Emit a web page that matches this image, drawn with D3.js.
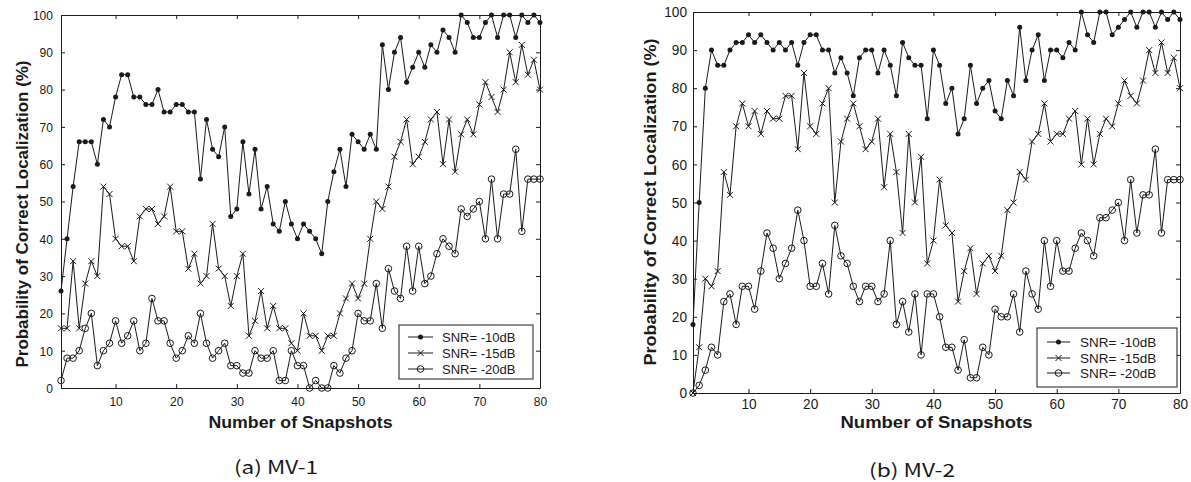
<!DOCTYPE html>
<html>
<head>
<meta charset="utf-8">
<script src="https://cdn.jsdelivr.net/npm/d3@7/dist/d3.min.js"></script>
<style>
  body { margin: 0; background: #fff; }
  svg { display: block; }
</style>
</head>
<body>
<div id="chart"></div>
<script>
// x categories and tick labels
const snapshots = d3.range(1, 81);
const xTickValues = [10, 20, 30, 40, 50, 60, 70, 80];
const yTickValues = [0, 10, 20, 30, 40, 50, 60, 70, 80, 90, 100];
const seriesNames = ["SNR= -10dB", "SNR= -15dB", "SNR= -20dB"];
const panelCaptions = ["(a)  MV-1", "(b)  MV-2"];

// (a) MV-1, probability of correct localization (%)
const mv1Snr10 = [26, 40, 54, 66, 66, 66, 60, 72, 70, 78, 84, 84, 78, 78, 76, 76, 80, 74, 74, 76,
  76, 74, 74, 56, 72, 64, 62, 70, 46, 48, 66, 52, 64, 48, 54, 44, 42, 50, 44, 40,
  44, 42, 40, 36, 50, 58, 64, 54, 68, 66, 64, 68, 64, 92, 80, 90, 94, 82, 86, 90,
  86, 92, 90, 96, 94, 90, 100, 98, 94, 94, 98, 100, 94, 100, 100, 94, 100, 98, 100, 98];
const mv1Snr15 = [16, 16, 34, 16, 28, 34, 30, 54, 52, 40, 38, 38, 34, 46, 48, 48, 44, 46, 54, 42,
  42, 32, 36, 28, 30, 44, 32, 30, 22, 30, 36, 14, 18, 26, 16, 22, 16, 16, 12, 10,
  20, 14, 14, 10, 14, 14, 20, 24, 28, 24, 28, 40, 50, 48, 54, 62, 66, 72, 60, 62,
  66, 72, 74, 60, 72, 58, 68, 72, 68, 76, 82, 78, 74, 80, 90, 82, 92, 84, 88, 80];
const mv1Snr20 = [2, 8, 8, 10, 16, 20, 6, 10, 12, 18, 12, 14, 18, 10, 12, 24, 18, 18, 12, 8,
  10, 14, 12, 20, 12, 8, 10, 12, 6, 6, 4, 4, 10, 8, 8, 10, 2, 2, 10, 6,
  6, 0, 2, 0, 0, 6, 4, 8, 10, 20, 18, 18, 28, 16, 32, 26, 24, 38, 26, 38,
  28, 30, 36, 40, 38, 36, 48, 46, 48, 50, 40, 56, 40, 52, 52, 64, 42, 56, 56, 56];

// (b) MV-2
const mv2Snr10 = [18, 50, 80, 90, 86, 86, 90, 92, 92, 94, 92, 94, 92, 90, 92, 90, 92, 86, 92, 94,
  94, 90, 90, 84, 88, 84, 78, 88, 90, 90, 84, 90, 86, 78, 92, 88, 86, 86, 72, 90,
  86, 76, 80, 68, 72, 86, 76, 80, 82, 74, 72, 82, 78, 96, 82, 90, 94, 82, 90, 90,
  88, 92, 90, 100, 94, 92, 100, 100, 94, 96, 98, 100, 96, 100, 100, 96, 100, 98, 100, 98];
const mv2Snr15 = [0, 12, 30, 28, 32, 58, 52, 70, 76, 70, 74, 68, 74, 72, 72, 78, 78, 64, 84, 70,
  68, 76, 80, 50, 66, 72, 76, 70, 64, 66, 72, 54, 68, 58, 42, 68, 50, 62, 34, 40,
  56, 44, 42, 24, 32, 38, 26, 34, 36, 32, 36, 48, 50, 58, 56, 66, 68, 76, 66, 68,
  68, 72, 74, 60, 72, 60, 68, 72, 70, 76, 82, 78, 76, 82, 90, 84, 92, 84, 88, 80];
const mv2Snr20 = [0, 2, 6, 12, 10, 24, 26, 18, 28, 28, 22, 32, 42, 38, 30, 34, 38, 48, 40, 28,
  28, 34, 26, 44, 36, 34, 28, 24, 28, 28, 24, 26, 40, 18, 24, 16, 26, 10, 26, 26,
  20, 12, 12, 6, 14, 4, 4, 12, 10, 22, 20, 20, 26, 16, 32, 26, 22, 40, 28, 40,
  32, 32, 38, 42, 40, 36, 46, 46, 48, 50, 40, 56, 42, 52, 52, 64, 42, 56, 56, 56];

const markers = ["dot", "cross", "ring"];
const ink = "#1a1a1a";

const width = 1191;
const height = 482;

const svg = d3
  .select("#chart")
  .append("svg")
  .attr("width", width)
  .attr("height", height)
  .attr("viewBox", [0, 0, width, height])
  .style("font-family", "'Liberation Sans', Arial, sans-serif");

// layout of the two sub-figures (they were scanned at slightly different sizes)
const panels = [
  {
    series: [mv1Snr10, mv1Snr15, mv1Snr20],
    caption: panelCaptions[0],
    x0: 61, x1: 540, y0: 388, y1: 15,
    tickFont: 13.5, digitW: 6.7, tickPad: 8,
    yTitle: { x: 22, y: 214, size: 16, len: 307 },
    xTitle: { y: 428, size: 16, len: 184 },
    cap: { x: 276, y: 474, len: 84 },
    legend: { x: 399, y: 325, w: 134, h: 54, rows: [337, 353, 369], lx0: 408, lx1: 433, tx: 442, size: 13 },
  },
  {
    series: [mv2Snr10, mv2Snr15, mv2Snr20],
    caption: panelCaptions[1],
    x0: 693, x1: 1180, y0: 393, y1: 12,
    tickFont: 14.5, digitW: 7.6, tickPad: 6,
    yTitle: { x: 650, y: 202, size: 17, len: 327 },
    xTitle: { y: 428, size: 16.5, len: 192 },
    cap: { x: 912, y: 477, len: 86 },
    legend: { x: 1037, y: 328, w: 140, h: 59, rows: [342, 358, 373], lx0: 1047, lx1: 1070, tx: 1080, size: 13.5 },
  },
];

const drawMarker = (g, kind) => {
  if (kind === "dot") {
    g.append("circle").attr("r", 2.5).attr("fill", ink);
  } else if (kind === "cross") {
    g.append("path")
      .attr("d", "M-3,-3L3,3M-3,3L3,-3")
      .attr("stroke", ink)
      .attr("stroke-width", 1);
  } else {
    g.append("circle")
      .attr("r", 3.3)
      .attr("fill", "none")
      .attr("stroke", ink)
      .attr("stroke-width", 1);
  }
};

panels.forEach((p) => {
  const x = d3.scaleLinear().domain([1, 80]).range([p.x0, p.x1]);
  const y = d3.scaleLinear().domain([0, 100]).range([p.y0, p.y1]);

  const g = svg.append("g");

  // box with inward ticks on all four sides, like matlab
  // tick digits in the scan are tall and narrow, so squeeze them a bit
  const styleAxis = (sel) => {
    sel.attr("font-family", null);
    sel.select(".domain").attr("stroke", ink);
    sel.selectAll(".tick line").attr("stroke", ink);
    sel.selectAll(".tick text")
      .attr("fill", ink)
      .attr("textLength", (d) => String(d).length * p.digitW)
      .attr("lengthAdjust", "spacingAndGlyphs")
      .style("font-size", p.tickFont + "px");
  };

  g.append("g")
    .attr("transform", `translate(0,${p.y0})`)
    .call(d3.axisBottom(x).tickValues(xTickValues).tickSizeInner(-4).tickSizeOuter(0).tickPadding(p.tickPad))
    .call(styleAxis);

  g.append("g")
    .attr("transform", `translate(0,${p.y1})`)
    .call(d3.axisTop(x).tickValues(xTickValues).tickSizeInner(-4).tickSizeOuter(0).tickFormat(""))
    .call(styleAxis);

  g.append("g")
    .attr("transform", `translate(${p.x0},0)`)
    .call(d3.axisLeft(y).tickValues(yTickValues).tickSizeInner(-4).tickSizeOuter(0).tickPadding(p.tickPad))
    .call(styleAxis);

  g.append("g")
    .attr("transform", `translate(${p.x1},0)`)
    .call(d3.axisRight(y).tickValues(yTickValues).tickSizeInner(-4).tickSizeOuter(0).tickFormat(""))
    .call(styleAxis);

  // series lines and markers
  const line = d3
    .line()
    .x((d, i) => x(snapshots[i]))
    .y((d) => y(d));

  p.series.forEach((values, si) => {
    g.append("path")
      .datum(values)
      .attr("fill", "none")
      .attr("stroke", ink)
      .attr("stroke-width", 1)
      .attr("d", line);

    g.append("g")
      .selectAll("g")
      .data(values)
      .join("g")
      .attr("transform", (d, i) => `translate(${x(snapshots[i])},${y(d)})`)
      .each(function () {
        drawMarker(d3.select(this), markers[si]);
      });
  });

  // legend
  const lg = p.legend;
  g.append("rect")
    .attr("x", lg.x)
    .attr("y", lg.y)
    .attr("width", lg.w)
    .attr("height", lg.h)
    .attr("fill", "#fff")
    .attr("stroke", ink)
    .attr("stroke-width", 1);

  seriesNames.forEach((name, si) => {
    const ry = lg.rows[si];
    g.append("line")
      .attr("x1", lg.lx0)
      .attr("x2", lg.lx1)
      .attr("y1", ry)
      .attr("y2", ry)
      .attr("stroke", ink);
    const mg = g.append("g").attr("transform", `translate(${(lg.lx0 + lg.lx1) / 2},${ry})`);
    drawMarker(mg, markers[si]);
    g.append("text")
      .attr("x", lg.tx)
      .attr("y", ry)
      .attr("dy", "0.35em")
      .attr("fill", ink)
      .style("font-size", lg.size + "px")
      .text(name);
  });

  // axis titles
  g.append("text")
    .attr("transform", `translate(${p.yTitle.x},${p.yTitle.y}) rotate(-90)`)
    .attr("text-anchor", "middle")
    .attr("dy", "0.35em")
    .attr("fill", ink)
    .attr("font-weight", "bold")
    .attr("textLength", p.yTitle.len)
    .attr("lengthAdjust", "spacingAndGlyphs")
    .style("font-size", p.yTitle.size + "px")
    .text("Probability of Correct Localization (%)");

  g.append("text")
    .attr("x", (p.x0 + p.x1) / 2)
    .attr("y", p.xTitle.y)
    .attr("text-anchor", "middle")
    .attr("fill", ink)
    .attr("font-weight", "bold")
    .attr("textLength", p.xTitle.len)
    .attr("lengthAdjust", "spacingAndGlyphs")
    .style("font-size", p.xTitle.size + "px")
    .text("Number of Snapshots");

  // caption under each sub-figure
  g.append("text")
    .attr("x", p.cap.x)
    .attr("y", p.cap.y)
    .attr("text-anchor", "middle")
    .attr("fill", ink)
    .attr("textLength", p.cap.len)
    .attr("lengthAdjust", "spacingAndGlyphs")
    .style("font-size", "18px")
    .style("font-family", "'Noto Sans CJK KR', 'DejaVu Sans', sans-serif")
    .text(p.caption);
});
</script>
</body>
</html>
